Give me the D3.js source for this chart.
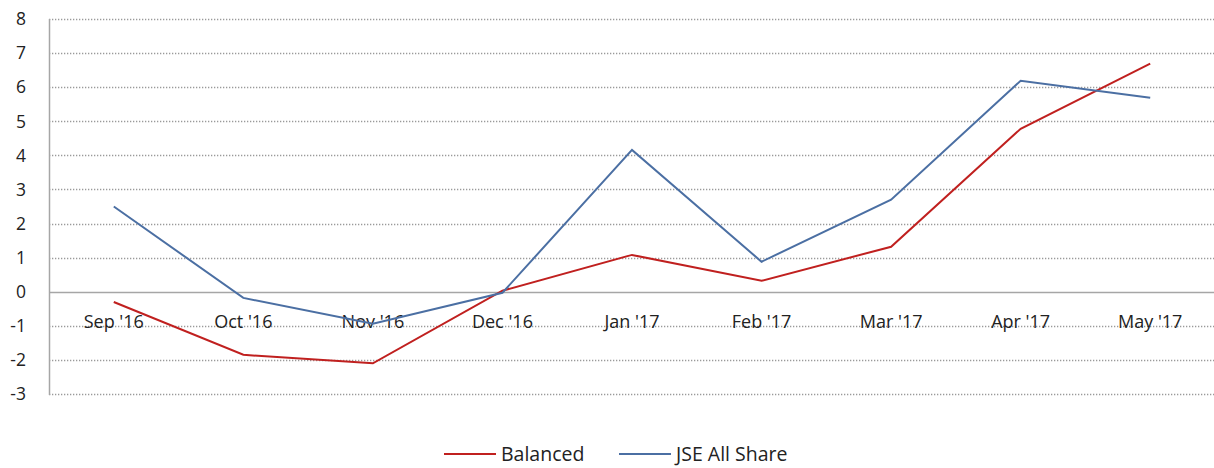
<!DOCTYPE html>
<html lang="en">
<head>
<meta charset="UTF-8">
<title>Balanced vs JSE All Share</title>
<script src="https://d3js.org/d3.v7.min.js"></script>
<style>
  body { margin: 0; background: #fff; }
  text { font-family: "Open Sans", Roboto, sans-serif; font-weight: 400; fill: #222; }
</style>
</head>
<body>
<script>
// data
var months = ["Sep '16", "Oct '16", "Nov '16", "Dec '16", "Jan '17", "Feb '17", "Mar '17", "Apr '17", "May '17"];
var balanced = [-0.3, -1.85, -2.1, 0.03, 1.08, 0.32, 1.32, 4.78, 6.69];
var jseAllShare = [2.5, -0.18, -0.94, -0.03, 4.16, 0.88, 2.7, 6.19, 5.69];
var yTicks = [-3, -2, -1, 0, 1, 2, 3, 4, 5, 6, 7, 8];
var seriesNames = ["Balanced", "JSE All Share"];
var colours = ["#c0201f", "#4b6fa3"];

function drawChart() {
  var width = 1214, height = 468;
  var plotLeft = 49, plotRight = 1215, plotTop = 19, plotBottom = 394;

  var svg = d3.select("body").append("svg")
      .attr("width", width)
      .attr("height", height);

  var x = d3.scaleBand().domain(months).range([plotLeft, plotRight]);
  var y = d3.scaleLinear().domain([-3, 8]).range([plotBottom, plotTop]);

  // gridlines (dotted), zero line solid
  svg.append("g").selectAll("line")
    .data(yTicks.filter(function(d) { return d !== 0; }))
    .enter().append("line")
      .attr("x1", plotLeft).attr("x2", width)
      .attr("y1", function(d) { return Math.round(y(d)) + 0.5; })
      .attr("y2", function(d) { return Math.round(y(d)) + 0.5; })
      .attr("stroke", "#9a9a9a")
      .attr("stroke-width", 1.3)
      .attr("stroke-dasharray", "1.3,1.7");

  // y labels
  svg.append("g").selectAll("text")
    .data(yTicks)
    .enter().append("text")
      .attr("x", 26)
      .attr("y", function(d) { return y(d); })
      .attr("dy", "0.36em")
      .attr("text-anchor", "end")
      .attr("font-size", 17.5)
      .text(function(d) { return d; });

  // x labels, sit just above the -1 gridline
  svg.append("g").selectAll("text")
    .data(months)
    .enter().append("text")
      .attr("x", function(d) { return x(d) + x.bandwidth() / 2; })
      .attr("y", y(0) + 36)
      .attr("text-anchor", "middle")
      .attr("font-size", 18)
      .text(function(d) { return d; });

  // vertical axis line and zero line
  svg.append("line")
      .attr("x1", plotLeft + 0.5).attr("x2", plotLeft + 0.5)
      .attr("y1", plotTop).attr("y2", plotBottom + 1)
      .attr("stroke", "#a6a6a6").attr("stroke-width", 1.5);
  svg.append("line")
      .attr("x1", plotLeft).attr("x2", width)
      .attr("y1", Math.round(y(0)) + 0.5).attr("y2", Math.round(y(0)) + 0.5)
      .attr("stroke", "#a6a6a6").attr("stroke-width", 1.5);

  // lines
  var line = d3.line()
      .x(function(d, i) { return x(months[i]) + x.bandwidth() / 2; })
      .y(function(d) { return y(d); });

  [balanced, jseAllShare].forEach(function(s, k) {
    svg.append("path")
        .datum(s)
        .attr("d", line)
        .attr("fill", "none")
        .attr("stroke", colours[k])
        .attr("stroke-width", 2);
  });

  // legend
  var legendX = [444, 619];
  seriesNames.forEach(function(name, k) {
    var g = svg.append("g").attr("transform", "translate(" + legendX[k] + ",454)");
    g.append("line").attr("x1", 0).attr("x2", 52).attr("y1", 0).attr("y2", 0)
        .attr("stroke", colours[k]).attr("stroke-width", 2);
    g.append("text").attr("x", 57).attr("y", 0).attr("dy", "0.36em")
        .attr("font-size", 19.5).text(name);
  });
}

drawChart();
</script>
</body>
</html>
